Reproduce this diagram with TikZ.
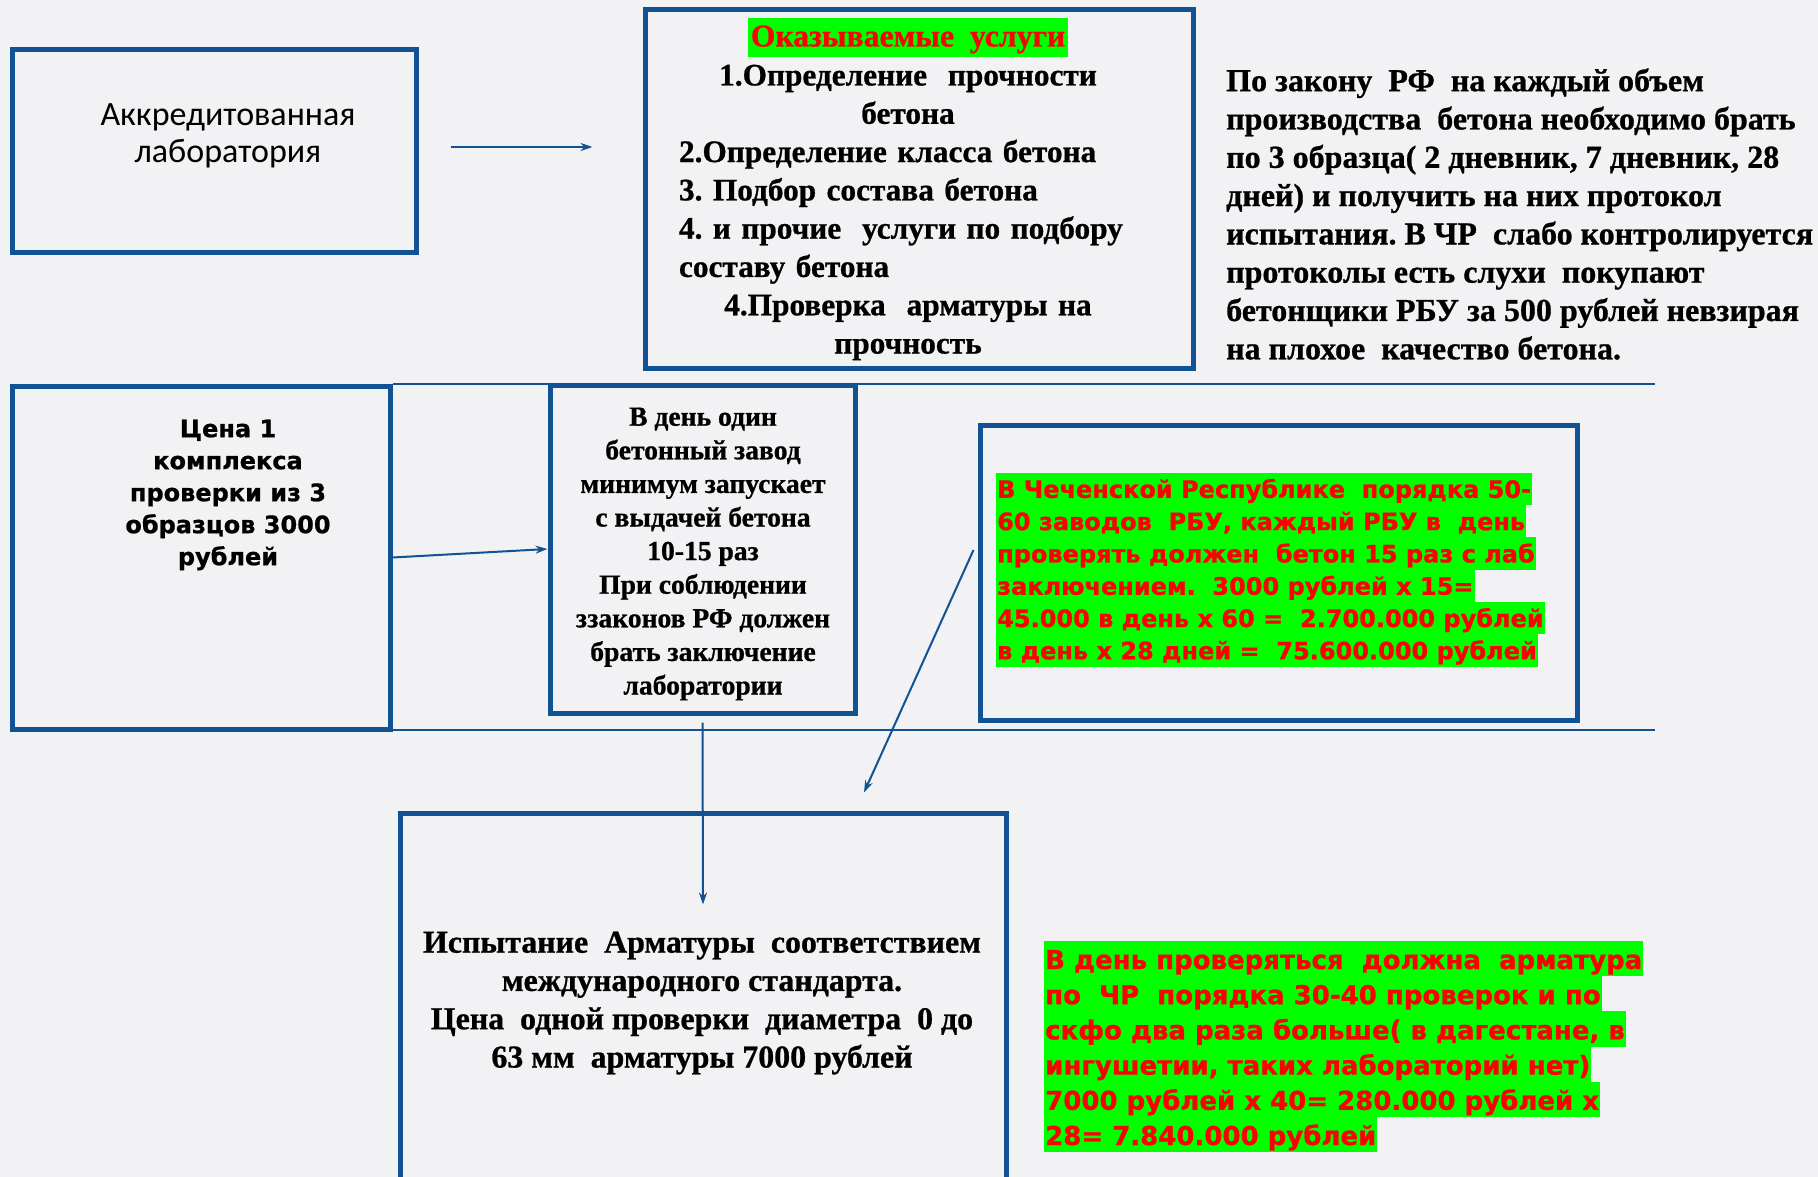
\documentclass[tikz,border=0pt]{standalone}
\usepackage{fontspec}
\setmainfont{Liberation Serif}[BoldFeatures={FakeBold=0.8}]
\newfontfamily\sansB{DejaVu Sans}[BoldFeatures={FakeBold=0.8}]
\newfontfamily\calib{Carlito}
\usetikzlibrary{arrows.meta}
\definecolor{bblue}{RGB}{16,82,148}
\definecolor{hlgreen}{RGB}{0,255,0}
\definecolor{hlred}{RGB}{255,0,0}
\definecolor{bgcol}{RGB}{242,242,244}
\frenchspacing
\tikzset{
  box/.style={draw=bblue, line width=5pt, rectangle, inner sep=0pt},
  conn/.style={draw=bblue, line width=2pt, -{Stealth[length=12pt,width=8pt]}},
  sepline/.style={draw=bblue, line width=2.2pt},
  serif/.style={font=\bfseries\fontsize{31.3}{38.3}\selectfont, inner sep=0pt},
  serifL/.style={font=\bfseries\fontsize{32}{38.3}\selectfont, inner sep=0pt},
  serifF/.style={font=\bfseries\fontsize{31.9}{38.3}\selectfont, inner sep=0pt},
  serifD/.style={font=\bfseries\fontsize{27.6}{33.6}\selectfont, inner sep=0pt},
  sansC/.style={font=\sansB\bfseries\fontsize{24}{32}\selectfont, inner sep=0pt},
  hlE/.style={fill=hlgreen, text=hlred, font=\sansB\bfseries\fontsize{24}{32.3}\selectfont,
    anchor=west, inner xsep=1pt, inner ysep=0pt, text height=25pt, text depth=7.3pt},
  hlG/.style={fill=hlgreen, text=hlred, font=\sansB\bfseries\fontsize{26}{35.2}\selectfont,
    anchor=west, inner xsep=1pt, inner ysep=0pt, text height=28pt, text depth=7.2pt},
}
\begin{document}
\begin{tikzpicture}[x=1pt,y=-1pt]
\useasboundingbox (0,0) rectangle (1818,1177);
\fill[bgcol] (0,0) rectangle (1818,1177);
\clip (0,0) rectangle (1818,1177);

% boxes
\node[box, minimum width=404pt, minimum height=203pt] (boxA) at (214,151.5) {};
\node[box, minimum width=548pt, minimum height=358pt] (boxS) at (919,189) {};
\node[box, minimum width=378pt, minimum height=343pt] (boxC) at (201,557.5) {};
\node[box, minimum width=305pt, minimum height=328pt] (boxD) at (702.5,549) {};
\node[box, minimum width=597pt, minimum height=295pt] (boxE) at (1278.5,572.5) {};
\node[box, minimum width=606pt, minimum height=387pt] (boxF) at (703,1006.5) {};

% separator lines
\coordinate (l1b) at (1655,384);
\coordinate (l2b) at (1655,730);
\draw[sepline] (boxC.east |- l1b) -- (l1b);
\draw[sepline] (boxC.east |- l2b) -- (l2b);

% texts
\node[font=\calib\fontsize{34}{37}\selectfont, align=center, inner sep=0pt] (tA) at (228,136)
  {Аккредитованная\\лаборатория};

\node[fill=hlgreen, text=hlred, font=\bfseries\fontsize{31.7}{38.3}\selectfont,
  inner xsep=3pt, inner ysep=0pt, text height=28pt, text depth=11pt] (title) at (908,38)
  {Оказываемые~~услуги};

\node[serif, text width=458pt, align=left] (tS) at (908,212.5) {%
\makebox[458pt][c]{1.Определение~~прочности}\\
\makebox[458pt][c]{бетона}\\
2.Определение класса бетона\\
3. Подбор состава бетона\\
4. и прочие~~услуги по подбору\\
составу бетона\\
\makebox[458pt][c]{4.Проверка~~арматуры на}\\
\makebox[458pt][c]{прочность}};

\node[serifL, align=left, anchor=west] (law) at (1226,214) {%
По закону~~РФ~~на каждый объем\\
производства~~бетона необходимо брать\\
по 3 образца( 2 дневник, 7 дневник, 28\\
дней) и получить на них протокол\\
испытания. В ЧР~~слабо контролируется\\
протоколы есть слухи~~покупают\\
бетонщики РБУ за 500 рублей невзирая\\
на плохое~~качество бетона.};

\node[sansC, align=center] (tC) at (228,495)
  {Цена 1\\комплекса\\проверки из 3\\образцов 3000\\рублей};

\node[serifD, align=center] (tD) at (703,554)
  {В день один\\бетонный завод\\минимум запускает\\с выдачей бетона\\10-15 раз\\При соблюдении\\ззаконов РФ должен\\брать заключение\\лаборатории};

\node[serifF, align=center] (tF) at (702,1003)
  {Испытание~~Арматуры~~соответствием\\международного стандарта.\\Цена~~одной проверки~~диаметра~~0 до\\63 мм~~арматуры 7000 рублей};

\foreach \t [count=\i] in {%
  {В Чеченской Республике~~порядка 50-},
  {60 заводов~~РБУ, каждый РБУ в~~день},
  {проверять должен~~бетон 15 раз с лаб},
  {заключением.~~3000 рублей х 15=},
  {45.000 в день х 60 =~~2.700.000 рублей},
  {в день х 28 дней =~~75.600.000 рублей}}
  \node[hlE] (e\i) at (996,{456.7+32.3*\i}) {\t};

\foreach \t [count=\i] in {%
  {В день проверяться~~должна~~арматура},
  {по~~ЧР~~порядка 30-40 проверок и по},
  {скфо два раза больше( в дагестане, в},
  {ингушетии, таких лабораторий нет)},
  {7000 рублей х 40= 280.000 рублей х},
  {28= 7.840.000 рублей}}
  \node[hlG] (g\i) at (1044,{923.4+35.2*\i}) {\t};

% connectors
\draw[conn] ([shift={(32,-4.5)}]boxA.east) -- ([shift={(-50,-42)}]boxS.west);
\draw[conn] (boxC.east) -- (boxD.west);
\draw[conn] ([yshift=-7pt]boxD.south) -- ([yshift=-94pt]boxF.north);
\draw[conn] ([shift={(-4,-22.5)}]boxE.west) -- ([shift={(161,-18)}]boxF.north);
\end{tikzpicture}
\end{document}
